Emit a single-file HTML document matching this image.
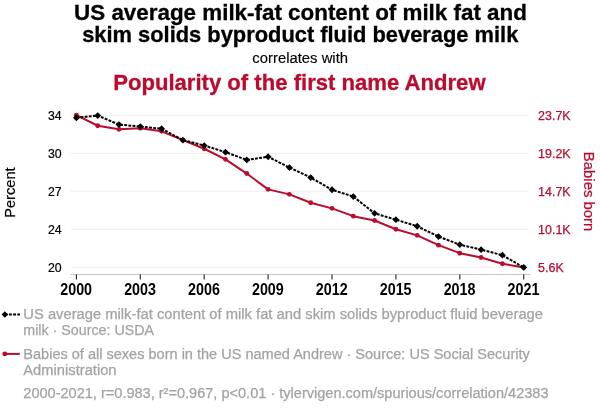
<!DOCTYPE html>
<html><head><meta charset="utf-8"><title>chart</title>
<style>
html,body{margin:0;padding:0;background:#fff;}
body{width:600px;height:414px;overflow:hidden;font-family:"Liberation Sans",sans-serif;}
svg{display:block}
text{font-family:"Liberation Sans",sans-serif;}
</style></head><body>
<svg width="600" height="414" viewBox="0 0 600 414" style="will-change:transform">
<rect width="600" height="414" fill="#fff"/>
<text x="300.5" y="19.5" text-anchor="middle" font-size="22.6" font-weight="bold" fill="#000" stroke="#000" stroke-width="0.3" textLength="452.8" lengthAdjust="spacingAndGlyphs">US average milk-fat content of milk fat and</text>
<text x="300.25" y="41.8" text-anchor="middle" font-size="22" font-weight="bold" fill="#000" stroke="#000" stroke-width="0.3" textLength="436.2" lengthAdjust="spacingAndGlyphs">skim solids byproduct fluid beverage milk</text>
<text x="300.2" y="63" text-anchor="middle" font-size="14.85" fill="#000" stroke="#000" stroke-width="0.15">correlates with</text>
<text x="299.4" y="89.5" text-anchor="middle" font-size="22.5" font-weight="bold" fill="#ba0c2f" stroke="#ba0c2f" stroke-width="0.3" textLength="372.4" lengthAdjust="spacingAndGlyphs">Popularity of the first name Andrew</text>
<line x1="70.5" x2="528" y1="115.3" y2="115.3" stroke="#efefef" stroke-width="1"/>
<line x1="70.5" x2="528" y1="153.3" y2="153.3" stroke="#efefef" stroke-width="1"/>
<line x1="70.5" x2="528" y1="191.3" y2="191.3" stroke="#efefef" stroke-width="1"/>
<line x1="70.5" x2="528" y1="229.3" y2="229.3" stroke="#efefef" stroke-width="1"/>
<line x1="70.5" x2="528" y1="267.3" y2="267.3" stroke="#efefef" stroke-width="1"/>
<text x="61.6" y="119.8" text-anchor="end" font-size="12.3" fill="#000" stroke="#000" stroke-width="0.2">34</text>
<text x="61.6" y="157.8" text-anchor="end" font-size="12.3" fill="#000" stroke="#000" stroke-width="0.2">30</text>
<text x="61.6" y="195.8" text-anchor="end" font-size="12.3" fill="#000" stroke="#000" stroke-width="0.2">27</text>
<text x="61.6" y="233.8" text-anchor="end" font-size="12.3" fill="#000" stroke="#000" stroke-width="0.2">24</text>
<text x="61.6" y="271.8" text-anchor="end" font-size="12.3" fill="#000" stroke="#000" stroke-width="0.2">20</text>
<text x="538.1" y="119.8" font-size="12.45" fill="#ba0c2f" stroke="#ba0c2f" stroke-width="0.25">23.7K</text>
<text x="538.1" y="157.8" font-size="12.45" fill="#ba0c2f" stroke="#ba0c2f" stroke-width="0.25">19.2K</text>
<text x="538.1" y="195.8" font-size="12.45" fill="#ba0c2f" stroke="#ba0c2f" stroke-width="0.25">14.7K</text>
<text x="538.1" y="233.8" font-size="12.45" fill="#ba0c2f" stroke="#ba0c2f" stroke-width="0.25">10.1K</text>
<text x="538.1" y="271.8" font-size="12.45" fill="#ba0c2f" stroke="#ba0c2f" stroke-width="0.25">5.6K</text>
<line x1="70.5" x2="530.2" y1="274.5" y2="274.5" stroke="#c6c6c6" stroke-width="1"/>
<line x1="76.40" x2="76.40" y1="274.5" y2="279.6" stroke="#222" stroke-width="1.1"/>
<text x="76.15" y="295.1" text-anchor="middle" font-size="15.7" font-weight="bold" fill="#000" textLength="31.8" lengthAdjust="spacingAndGlyphs">2000</text>
<line x1="140.30" x2="140.30" y1="274.5" y2="279.6" stroke="#222" stroke-width="1.1"/>
<text x="140.05" y="295.1" text-anchor="middle" font-size="15.7" font-weight="bold" fill="#000" textLength="31.8" lengthAdjust="spacingAndGlyphs">2003</text>
<line x1="204.20" x2="204.20" y1="274.5" y2="279.6" stroke="#222" stroke-width="1.1"/>
<text x="203.95" y="295.1" text-anchor="middle" font-size="15.7" font-weight="bold" fill="#000" textLength="31.8" lengthAdjust="spacingAndGlyphs">2006</text>
<line x1="268.10" x2="268.10" y1="274.5" y2="279.6" stroke="#222" stroke-width="1.1"/>
<text x="267.85" y="295.1" text-anchor="middle" font-size="15.7" font-weight="bold" fill="#000" textLength="31.8" lengthAdjust="spacingAndGlyphs">2009</text>
<line x1="332.00" x2="332.00" y1="274.5" y2="279.6" stroke="#222" stroke-width="1.1"/>
<text x="331.75" y="295.1" text-anchor="middle" font-size="15.7" font-weight="bold" fill="#000" textLength="31.8" lengthAdjust="spacingAndGlyphs">2012</text>
<line x1="395.90" x2="395.90" y1="274.5" y2="279.6" stroke="#222" stroke-width="1.1"/>
<text x="395.65" y="295.1" text-anchor="middle" font-size="15.7" font-weight="bold" fill="#000" textLength="31.8" lengthAdjust="spacingAndGlyphs">2015</text>
<line x1="459.80" x2="459.80" y1="274.5" y2="279.6" stroke="#222" stroke-width="1.1"/>
<text x="459.55" y="295.1" text-anchor="middle" font-size="15.7" font-weight="bold" fill="#000" textLength="31.8" lengthAdjust="spacingAndGlyphs">2018</text>
<line x1="523.70" x2="523.70" y1="274.5" y2="279.6" stroke="#222" stroke-width="1.1"/>
<text x="523.45" y="295.1" text-anchor="middle" font-size="15.7" font-weight="bold" fill="#000" textLength="31.8" lengthAdjust="spacingAndGlyphs">2021</text>
<text transform="translate(15.3,192.6) rotate(-90)" text-anchor="middle" font-size="15.2" fill="#000" stroke="#000" stroke-width="0.2" textLength="50.4" lengthAdjust="spacingAndGlyphs">Percent</text>
<text transform="translate(584.3,191.6) rotate(90)" text-anchor="middle" font-size="14.9" fill="#ba0c2f" stroke="#ba0c2f" stroke-width="0.25">Babies born</text>
<polyline points="76.4,115.15 97.7,125.75 119.0,129.35 140.3,128.15 161.6,131.35 182.9,140.15 204.2,148.75 225.5,159.35 246.8,173.55 268.1,189.35 289.4,194.35 310.7,202.75 332.0,208.35 353.3,216.15 374.6,220.55 395.9,229.25 417.2,235.35 438.5,245.15 459.8,253.15 481.1,257.45 502.4,263.75 523.7,267.45" fill="none" stroke="#ba0c2f" stroke-width="2" stroke-linejoin="round"/>
<circle cx="76.4" cy="115.15" r="2.45" fill="#ba0c2f"/>
<circle cx="97.7" cy="125.75" r="2.45" fill="#ba0c2f"/>
<circle cx="119.0" cy="129.35" r="2.45" fill="#ba0c2f"/>
<circle cx="140.3" cy="128.15" r="2.45" fill="#ba0c2f"/>
<circle cx="161.6" cy="131.35" r="2.45" fill="#ba0c2f"/>
<circle cx="182.9" cy="140.15" r="2.45" fill="#ba0c2f"/>
<circle cx="204.2" cy="148.75" r="2.45" fill="#ba0c2f"/>
<circle cx="225.5" cy="159.35" r="2.45" fill="#ba0c2f"/>
<circle cx="246.8" cy="173.55" r="2.45" fill="#ba0c2f"/>
<circle cx="268.1" cy="189.35" r="2.45" fill="#ba0c2f"/>
<circle cx="289.4" cy="194.35" r="2.45" fill="#ba0c2f"/>
<circle cx="310.7" cy="202.75" r="2.45" fill="#ba0c2f"/>
<circle cx="332.0" cy="208.35" r="2.45" fill="#ba0c2f"/>
<circle cx="353.3" cy="216.15" r="2.45" fill="#ba0c2f"/>
<circle cx="374.6" cy="220.55" r="2.45" fill="#ba0c2f"/>
<circle cx="395.9" cy="229.25" r="2.45" fill="#ba0c2f"/>
<circle cx="417.2" cy="235.35" r="2.45" fill="#ba0c2f"/>
<circle cx="438.5" cy="245.15" r="2.45" fill="#ba0c2f"/>
<circle cx="459.8" cy="253.15" r="2.45" fill="#ba0c2f"/>
<circle cx="481.1" cy="257.45" r="2.45" fill="#ba0c2f"/>
<circle cx="502.4" cy="263.75" r="2.45" fill="#ba0c2f"/>
<circle cx="523.7" cy="267.45" r="2.45" fill="#ba0c2f"/>
<polyline points="76.4,117.75 97.7,115.55 119.0,124.55 140.3,126.55 161.6,128.75 182.9,140.15 204.2,145.55 225.5,152.15 246.8,159.95 268.1,156.75 289.4,167.55 310.7,177.55 332.0,189.75 353.3,196.55 374.6,213.35 395.9,219.65 417.2,226.25 438.5,236.55 459.8,244.65 481.1,249.65 502.4,255.15 523.7,267.45" fill="none" stroke="#000" stroke-width="2" stroke-dasharray="2.9 1.25" stroke-linejoin="round"/>
<path d="M73.00,117.75L76.4,114.35L79.80,117.75L76.4,121.15Z" fill="#000"/>
<path d="M94.30,115.55L97.7,112.15L101.10,115.55L97.7,118.95Z" fill="#000"/>
<path d="M115.60,124.55L119.0,121.15L122.40,124.55L119.0,127.95Z" fill="#000"/>
<path d="M136.90,126.55L140.3,123.15L143.70,126.55L140.3,129.95Z" fill="#000"/>
<path d="M158.20,128.75L161.6,125.35L165.00,128.75L161.6,132.15Z" fill="#000"/>
<path d="M179.50,140.15L182.9,136.75L186.30,140.15L182.9,143.55Z" fill="#000"/>
<path d="M200.80,145.55L204.2,142.15L207.60,145.55L204.2,148.95Z" fill="#000"/>
<path d="M222.10,152.15L225.5,148.75L228.90,152.15L225.5,155.55Z" fill="#000"/>
<path d="M243.40,159.95L246.8,156.55L250.20,159.95L246.8,163.35Z" fill="#000"/>
<path d="M264.70,156.75L268.1,153.35L271.50,156.75L268.1,160.15Z" fill="#000"/>
<path d="M286.00,167.55L289.4,164.15L292.80,167.55L289.4,170.95Z" fill="#000"/>
<path d="M307.30,177.55L310.7,174.15L314.10,177.55L310.7,180.95Z" fill="#000"/>
<path d="M328.60,189.75L332.0,186.35L335.40,189.75L332.0,193.15Z" fill="#000"/>
<path d="M349.90,196.55L353.3,193.15L356.70,196.55L353.3,199.95Z" fill="#000"/>
<path d="M371.20,213.35L374.6,209.95L378.00,213.35L374.6,216.75Z" fill="#000"/>
<path d="M392.50,219.65L395.9,216.25L399.30,219.65L395.9,223.05Z" fill="#000"/>
<path d="M413.80,226.25L417.2,222.85L420.60,226.25L417.2,229.65Z" fill="#000"/>
<path d="M435.10,236.55L438.5,233.15L441.90,236.55L438.5,239.95Z" fill="#000"/>
<path d="M456.40,244.65L459.8,241.25L463.20,244.65L459.8,248.05Z" fill="#000"/>
<path d="M477.70,249.65L481.1,246.25L484.50,249.65L481.1,253.05Z" fill="#000"/>
<path d="M499.00,255.15L502.4,251.75L505.80,255.15L502.4,258.55Z" fill="#000"/>
<path d="M520.30,267.45L523.7,264.05L527.10,267.45L523.7,270.85Z" fill="#000"/>
<line x1="4.8" x2="20" y1="314.5" y2="314.5" stroke="#000" stroke-width="2" stroke-dasharray="2.9 1.25"/>
<path d="M1.6,314.5L4.8,311.3L8,314.5L4.8,317.7Z" fill="#000"/>
<line x1="4.8" x2="19.8" y1="353.9" y2="353.9" stroke="#ba0c2f" stroke-width="2"/>
<circle cx="4.8" cy="353.9" r="2.45" fill="#ba0c2f"/>
<text x="23.3" y="318.5" font-size="14.72" fill="#a3a3a3" stroke="#a3a3a3" stroke-width="0.25" textLength="519.7" lengthAdjust="spacingAndGlyphs">US average milk-fat content of milk fat and skim solids byproduct fluid beverage</text>
<text x="23.3" y="334.6" font-size="14.72" fill="#a3a3a3" stroke="#a3a3a3" stroke-width="0.25" textLength="130.8" lengthAdjust="spacingAndGlyphs">milk · Source: USDA</text>
<text x="23.3" y="358.7" font-size="14.72" fill="#a3a3a3" stroke="#a3a3a3" stroke-width="0.25" textLength="506.5" lengthAdjust="spacingAndGlyphs">Babies of all sexes born in the US named Andrew · Source: US Social Security</text>
<text x="23.3" y="374.7" font-size="14.72" fill="#a3a3a3" stroke="#a3a3a3" stroke-width="0.25">Administration</text>
<text x="23.3" y="398" font-size="14.55" fill="#a3a3a3" stroke="#a3a3a3" stroke-width="0.25">2000-2021, r=0.983, r²=0.967, p&lt;0.01 · tylervigen.com/spurious/correlation/42383</text>
</svg></body></html>
